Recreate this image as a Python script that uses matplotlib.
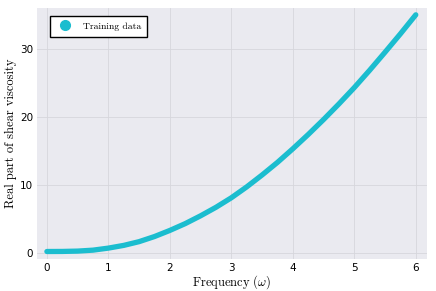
import matplotlib
matplotlib.use("Agg")
import matplotlib.pyplot as plt
from matplotlib.lines import Line2D

# ==========================================================
# Data
# ==========================================================

freq = [0.0, 0.25, 0.5, 0.75, 1.0, 1.25, 1.5, 1.75, 2.0, 2.25, 2.5, 2.75,
        3.0, 3.25, 3.5, 3.75, 4.0, 4.25, 4.5, 4.75, 5.0, 5.25, 5.5, 5.75, 6.0]

viscosity = [0.2, 0.21, 0.26, 0.4, 0.7, 1.1, 1.65, 2.4, 3.3, 4.3, 5.45, 6.7,
             8.1, 9.7, 11.45, 13.3, 15.3, 17.4, 19.6, 21.9, 24.3, 26.85,
             29.5, 32.2, 35.0]

xticks = [0, 1, 2, 3, 4, 5, 6]
yticks = [0, 10, 20, 30]

COLOR = "#1bbdcf"

plt.rcParams["mathtext.fontset"] = "cm"

# ==========================================================
# Plot
# ==========================================================

fig = plt.figure(figsize=(4.36, 2.91), dpi=100)
ax = fig.add_axes([0.085, 0.110, 0.894, 0.8625])

ax.set_facecolor("#eaeaf0")
for s in ax.spines.values():
    s.set_visible(False)

ax.grid(True, color="#d6d6dc", linewidth=0.6)
ax.set_axisbelow(True)

ax.plot(freq, viscosity, color=COLOR, linewidth=3.8, solid_capstyle="round")

ax.set_xlim(-0.16, 6.18)
ax.set_ylim(-0.9, 36.0)
ax.set_xticks(xticks)
ax.set_yticks(yticks)
ax.tick_params(length=0, labelsize=7.5, pad=3)

ax.set_xlabel(r"Frequency ($\omega$)", fontfamily="cmr10", fontsize=9, labelpad=0)
ax.set_ylabel("Real part of shear viscosity", fontfamily="cmr10", fontsize=9, labelpad=2)

handle = Line2D([], [], marker="o", linestyle="none", color=COLOR, markersize=7)
leg = ax.legend([handle], ["Training data"], loc="upper left",
                prop={"family": "cmr10", "size": 7}, fancybox=False,
                framealpha=1, edgecolor="black", borderpad=0.6,
                handletextpad=0.8, borderaxespad=0,
                bbox_to_anchor=(0.033, 0.968))
leg.get_frame().set_linewidth(1.0)

fig.savefig("out.png", dpi=100)
